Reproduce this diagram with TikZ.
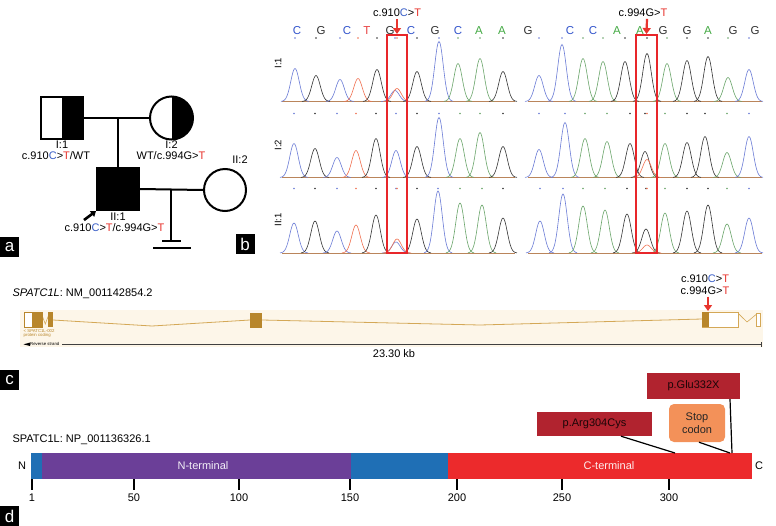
\documentclass[tikz,border=0pt]{standalone}
\usepackage{fontspec}
\setmainfont{Liberation Sans}
\usetikzlibrary{arrows.meta}
\definecolor{mutblue}{HTML}{3A5FC8}
\definecolor{mutred}{HTML}{E8352E}
\definecolor{trB}{HTML}{6A7BD6}
\definecolor{trK}{HTML}{333333}
\definecolor{trR}{HTML}{F07050}
\definecolor{trG}{HTML}{6AA56A}
\definecolor{ltB}{HTML}{3355CC}
\definecolor{ltK}{HTML}{333333}
\definecolor{ltR}{HTML}{E84040}
\definecolor{ltG}{HTML}{44AA44}
\definecolor{boxred}{HTML}{E8262A}
\definecolor{genegold}{HTML}{B8862B}
\definecolor{geneline}{HTML}{D4A857}
\definecolor{band}{HTML}{FDF6E9}
\definecolor{pblue}{HTML}{1F6FB5}
\definecolor{ppurple}{HTML}{6B3F98}
\definecolor{pred}{HTML}{EC2A2C}
\definecolor{pdark}{HTML}{B1232F}
\definecolor{porange}{HTML}{F39159}
\newcommand\mutC{\textcolor{mutblue}{C}}
\newcommand\mutT{\textcolor{mutred}{T}}
\newcommand\chromrow[3]{%
  \draw[trR!60!trG, line width=0.5pt] (282,#1) -- (515,#1);
  \draw[trR!60!trG, line width=0.5pt] (528,#1) -- (762,#1);
  \foreach \c/\h/\col in {#3}{%
    \pgfmathsetmacro\ds{\c-14}\pgfmathsetmacro\de{\c+14}%
    \draw[\col, line width=0.6pt] plot[domain=\ds:\de, samples=31, smooth] (\x,{#1-\h*exp(-(((\x-\c)/6)^2))});
    \fill[\col] (\c,#2) circle (0.8pt);
  }}
\begin{document}
\begin{tikzpicture}[x=1pt,y=-1pt,font=\fontsize{11}{12}\selectfont,
  ped/.style={draw, line width=2pt, minimum size=42pt, inner sep=0pt},
  halffill/.style={path picture={\fill (path picture bounding box.north) rectangle (path picture bounding box.south east);}},
  pline/.style={line width=2pt},
  panellab/.style={fill=black, text=white, font=\fontsize{17}{17}\selectfont, minimum width=19pt, minimum height=20pt, inner sep=0pt, anchor=north west},
  redarrow/.style={draw=mutred, line width=2.2pt, -{Triangle[width=8pt,length=6pt]}},
  mbox/.style={fill=pdark, text=black!85!pdark, inner sep=0pt},
  conn/.style={line width=1.2pt}]
\useasboundingbox (0,0) rectangle (776,525);
\fill[white] (0,0) rectangle (776,525);

% ---------------- panel a : pedigree ----------------
\node[ped, rectangle, halffill] (I1) at (62,118) {};
\node[ped, circle, halffill, minimum size=43pt] (I2) at (171.5,118) {};
\node[ped, rectangle, fill=black] (II1) at (118,189) {};
\node[ped, circle, minimum size=42pt] (II2) at (225,190) {};
\draw[pline] (I1.east) -- (I2.west);
\coordinate (m1) at (II1.north |- I1.east);
\draw[pline] (m1) -- (II1.north);
\draw[pline] (II1.east) -- (II2.west);
\coordinate (m2) at (171,190);
\coordinate (inf) at (171,241);
\coordinate (infa) at (162,241);
\coordinate (infb) at (181,241);
\coordinate (infc) at (153,247.5);
\coordinate (infd) at (191,247.5);
\draw[pline] (m2) -- (inf);
\draw[pline] (infa) -- (infb);
\draw[pline] (infc) -- (infd);
\coordinate (prob) at (84,220);
\draw[line width=2.6pt, -{Triangle[width=7pt,length=5pt]}] (prob) -- (II1.south west);
\node (lI1) at (62,145) {I:1};
\node (gI1) at (56,156) {c.910\mutC>\mutT/WT};
\node (lI2) at (171.5,145) {I:2};
\node (gI2) at (171,156) {WT/c.994G>\mutT};
\node (lII1) at (118,216.5) {II:1};
\node (gII1) at (114.5,227.5) {c.910\mutC>\mutT/c.994G>\mutT};
\node (lII2) at (240,160) {II:2};
\node[panellab] (pa) at (0,237) {a};
\node[panellab] (pb) at (235.5,234) {b};

% ---------------- panel b : chromatograms ----------------
\foreach \xx/\l/\col in {297/C/ltB,321/G/ltK,347/C/ltB,367/T/ltR,390/G/ltK,411/C/ltB,435/G/ltK,458/C/ltB,479/A/ltG,502/A/ltG,528/G/ltK,570/C/ltB,593/C/ltB,617/A/ltG,640/A/ltG,663/G/ltK,687/G/ltK,708/A/ltG,733/G/ltK,755/G/ltK}{
  \node[text=\col, font=\fontsize{11.5}{12}\selectfont] (base\xx) at (\xx,31) {\l};
}
\chromrow{101.5}{38}{295/33/trB,316/26/trK,340/22/trB,358/23/trR,377/32/trK,395/11/trB,397/13/trR,417/30/trK,439/60/trB,458/38/trG,480/43/trG,503/30/trK,539/26/trB,562/57/trB,583/43/trG,603/40/trG,625/40/trK,647/48/trK,667/38/trG,687/41/trK,708/45/trK,728/24/trG,749/32/trB}
\chromrow{177.5}{113.5}{294/34/trB,315/29/trK,337/20/trB,356/27/trR,376/39/trK,396/27/trB,417/31/trK,439/60/trB,460/39/trG,480/45/trG,503/31/trK,539/28/trB,565/55/trB,585/39/trG,607/36/trG,630/34/trK,645/26/trK,647/18/trR,665/34/trG,687/35/trK,705/41/trK,727/25/trG,749/41/trB}
\chromrow{253}{188.5}{294/30/trB,315/32/trK,337/22/trB,356/28/trR,376/38/trK,396/11/trB,397/14/trR,417/34/trK,438/62/trB,460/50/trG,482/48/trG,503/35/trK,540/32/trB,563/59/trB,583/47/trG,605/43/trG,627/39/trK,646/24/trK,647/8/trR,665/40/trG,687/42/trK,708/48/trK,727/29/trG,749/35/trB}
\node[rotate=90, font=\fontsize{9.5}{10}\selectfont] (rI1) at (278,63) {I:1};
\node[rotate=90, font=\fontsize{9.5}{10}\selectfont] (rI2) at (278,145) {I:2};
\node[rotate=90, font=\fontsize{9.5}{10}\selectfont] (rII1) at (278,220) {II:1};
\node[draw=boxred, line width=2pt, minimum width=20pt, minimum height=218pt, inner sep=0pt] (box1) at (397,144) {};
\node[draw=boxred, line width=2pt, minimum width=21pt, minimum height=218pt, inner sep=0pt] (box2) at (646.5,144) {};
\node (mut1) at (397,12.5) {c.910\mutC>\mutT};
\node (mut2) at (643,12.5) {c.994G>\mutT};
\draw[redarrow] (mut1.south) ++(0,-1) -- (box1.north);
\draw[redarrow] (mut2.south) ++(4,-1) -- ([xshift=0pt]box2.north);

% ---------------- panel c : gene structure ----------------
\node[anchor=west] (nmlab) at (9,294) {\textit{SPATC1L}: NM\_001142854.2};
\fill[band] (20,310) rectangle (763,347);
\draw[geneline, line width=0.8pt] (53,320) -- (152,326) -- (250,320);
\draw[geneline, line width=0.8pt] (262,320) -- (480,325) -- (702,319);
\draw[geneline, line width=0.6pt] (42.3,316) -- (45.3,324) -- (48.3,316);
\draw[geneline, line width=0.6pt] (738.3,313.5) -- (747,322) -- (756.7,314);
\node[draw=genegold, fill=white, line width=0.6pt, minimum width=18pt, minimum height=15pt, inner sep=0pt] (ex1) at (33.2,319.8) {};
\fill[genegold] (31.7,312.3) rectangle (42.3,327.3);
\node[fill=genegold, minimum width=5pt, minimum height=15pt, inner sep=0pt] (ex2) at (50.8,319.8) {};
\node[fill=genegold, minimum width=11.7pt, minimum height=15.5pt, inner sep=0pt] (ex3) at (255.9,320.3) {};
\node[draw=geneline, fill=white, line width=0.7pt, minimum width=36pt, minimum height=15pt, inner sep=0pt] (ex4) at (720.3,319.8) {};
\fill[genegold] (702.3,312.3) rectangle (709.3,327.3);
\node[draw=geneline, fill=white, line width=0.7pt, minimum width=4pt, minimum height=13.7pt, inner sep=0pt] (ex5) at (758.7,319.8) {};
\node[anchor=west, font=\fontsize{4.3}{4.8}\selectfont, text=genegold, align=left, inner sep=0pt] (trn) at (23.5,333.5) {< SPATC1L-002\\protein coding};
\fill (23.5,344.3) -- (30,342.6) -- (30,346) -- cycle;
\node[anchor=west, font=\fontsize{4.3}{5}\selectfont, inner sep=0.5pt] (rs) at (29.5,344.3) {Reverse strand};
\coordinate (rsend) at (761,344.3);
\draw[black!75, line width=0.6pt] (rs.east) ++(2,0) -- (rsend);
\draw[black!75, line width=0.6pt] (761,342) -- (761,346.5);
\node (kb) at (394,353.5) {23.30 kb};
\node (cm1) at (705,279) {c.910\mutC>\mutT};
\node (cm2) at (705,291) {c.994G>\mutT};
\coordinate (cmtip) at (708,311);
\draw[redarrow] (708,296.5) -- (cmtip);
\node[panellab] (pc) at (0,370) {c};

% ---------------- panel d : protein ----------------
\node[anchor=west] (nplab) at (9,440) {SPATC1L: NP\_001136326.1};
\fill[pblue] (31,453) rectangle (42,479);
\fill[ppurple] (42,453) rectangle (351,479);
\fill[pblue] (351,453) rectangle (448,479);
\fill[pred] (448,453) rectangle (752,479);
\node[text=white!92!ppurple] (nterm) at (203,466) {N-terminal};
\node[text=white!92!pred] (cterm) at (609,466) {C-terminal};
\node (Nl) at (22,466) {N};
\node (Cl) at (759,466) {C};
\foreach \xx/\t in {32/1,134/50,239/100,350/150,457/200,562/250,669/300}{
  \draw[line width=1.2pt] (\xx,479) -- (\xx,490);
  \node (tk\t) at (\xx,498) {\t};
}
\node[mbox, minimum width=115pt, minimum height=24pt] (arg) at (594.5,424) {p.Arg304Cys};
\node[mbox, minimum width=93pt, minimum height=26pt] (glu) at (693.5,386) {p.Glu332X};
\node[fill=porange, rounded corners=5pt, minimum width=56pt, minimum height=38pt, inner sep=0pt, align=center, text=black!85, font=\fontsize{11}{13}\selectfont] (stop) at (697,423) {Stop\\codon};
\coordinate (argpt) at (675,453);
\coordinate (stoppt) at (730,453);
\coordinate (glupt) at (732,453);
\draw[conn] (arg.south) ++(26.5,0) -- (argpt);
\draw[conn] (stop.south) ++(2,0) -- (stoppt);
\draw[conn] (glu.south) ++(36.5,0) -- (glupt);
\node[panellab] (pd) at (0,506) {d};
\end{tikzpicture}
\end{document}
